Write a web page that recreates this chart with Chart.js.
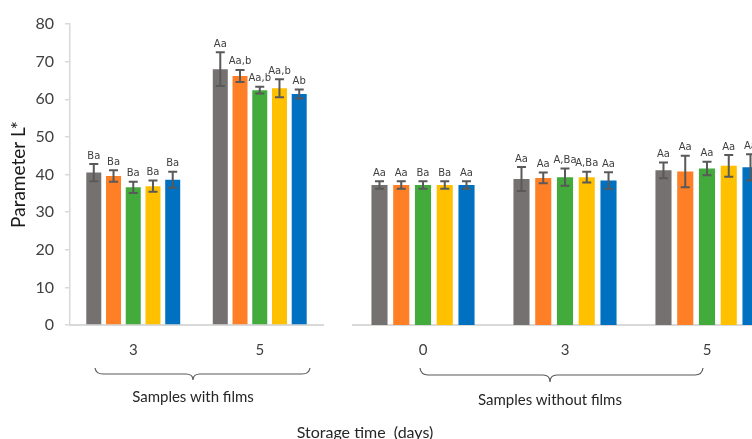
<!DOCTYPE html>
<html>
<head>
<meta charset="utf-8">
<script src="https://cdn.jsdelivr.net/npm/chart.js@4"></script>
<style>
  html, body { margin: 0; padding: 0; background: #fff; width: 752px; height: 439px; overflow: hidden; position: relative; }
  canvas { position: absolute; top: 0; }
  .cap { position: absolute; font-family: Lato, sans-serif; font-size: 15px; color: #262626; transform: translate(-50%, -50%); white-space: nowrap; }
  .cap.big { font-size: 16px; }
  svg { position: absolute; left: 0; top: 0; }
</style>
</head>
<body>
<canvas id="withFilms" width="340" height="439" style="left:0"></canvas>
<canvas id="withoutFilms" width="426" height="439" style="left:352px"></canvas>

<svg width="752" height="439">
  <g fill="none" stroke="#595959" stroke-width="1.2">
    <path d="M95 368 Q96 374 103 374 L186 374 Q193 374 193 380 Q193 374 200 374 L302 374 Q309 374 310 368"/>
    <path d="M420 368 Q421 375 428 375 L543 375 Q550 375 550 382 Q550 375 557 375 L695 375 Q702 375 703 368"/>
  </g>
</svg>
<div class="cap" style="left:193px;top:396px">Samples with films</div>
<div class="cap" style="left:550px;top:399px">Samples without films</div>
<div class="cap big" style="left:365px;top:431px">Storage time&nbsp;&nbsp;(days)</div>

<script>
// Storage days per panel
const daysWithFilms = ['3', '5'];
const daysWithoutFilms = ['0', '3', '5'];

// Bar colours for the five sample series
const seriesColors = ['#767171', '#FF7F27', '#43AB3C', '#FFC000', '#0070C0'];

// Parameter L* means, panel with films (one row per series)
const meansWithFilms = [
  [40.5, 68.0],
  [39.6, 66.2],
  [36.6, 62.4],
  [36.9, 62.9],
  [38.6, 61.4]
];
const errorsWithFilms = [
  [2.3, 4.5],
  [1.5, 1.6],
  [1.5, 0.9],
  [1.5, 2.4],
  [2.1, 1.2]
];
const lettersWithFilms = [
  ['Ba', 'Aa'],
  ['Ba', 'Aa,b'],
  ['Ba', 'Aa,b'],
  ['Ba', 'Aa,b'],
  ['Ba', 'Ab']
];

// Parameter L* means, panel without films
const meansWithoutFilms = [
  [37.2, 38.8, 41.1],
  [37.2, 39.1, 40.8],
  [37.2, 39.3, 41.6],
  [37.2, 39.3, 42.3],
  [37.2, 38.4, 41.9]
];
const errorsWithoutFilms = [
  [1.0, 3.2, 2.1],
  [1.0, 1.4, 4.2],
  [1.0, 2.3, 1.8],
  [1.0, 1.4, 2.9],
  [1.0, 2.2, 3.5]
];
const lettersWithoutFilms = [
  ['Aa', 'Aa', 'Aa'],
  ['Aa', 'Aa', 'Aa'],
  ['Ba', 'A,Ba', 'Aa'],
  ['Ba', 'A,Ba', 'Aa'],
  ['Aa', 'Aa', 'Aa']
];

// Y-axis ticks
const yMin = 0, yMax = 80, yStep = 10;

const AXIS_GREY = '#d9d9d9';
const TEXT_DARK = '#404040';

// Draws the ± error whiskers and the significance letters over each bar
const errorBarPlugin = {
  id: 'errorBars',
  afterDatasetsDraw(chart) {
    const ctx = chart.ctx;
    const y = chart.scales.y;
    chart.data.datasets.forEach((ds, i) => {
      const meta = chart.getDatasetMeta(i);
      meta.data.forEach((bar, j) => {
        const v = ds.data[j], e = ds.errors[j];
        const yt = y.getPixelForValue(v + e);
        const yb = y.getPixelForValue(v - e);
        const x = bar.x;
        ctx.save();
        ctx.strokeStyle = '#595959';
        ctx.lineWidth = 2;
        ctx.beginPath();
        ctx.moveTo(x, yt); ctx.lineTo(x, yb);
        ctx.moveTo(x - 4.5, yt); ctx.lineTo(x + 4.5, yt);
        ctx.moveTo(x - 4.5, yb); ctx.lineTo(x + 4.5, yb);
        ctx.stroke();
        ctx.fillStyle = TEXT_DARK;
        ctx.font = '10px "DejaVu Sans"';
        ctx.textAlign = 'center';
        ctx.textBaseline = 'bottom';
        ctx.fillText(ds.letters[j], x, yt - 3);
        ctx.restore();
      });
    });
  }
};

function buildDatasets(means, errors, letters) {
  return means.map((vals, i) => ({
    label: 'S' + (i + 1),
    data: vals,
    errors: errors[i],
    letters: letters[i],
    backgroundColor: seriesColors[i],
    borderWidth: 0
  }));
}

function xScale() {
  return {
    grid: { display: false, drawTicks: false },
    border: { color: AXIS_GREY, width: 2 },
    ticks: { color: TEXT_DARK, font: { family: 'Lato', size: 15 }, padding: 16 },
    afterFit(scale) { scale.height = 114; }
  };
}

Chart.defaults.animation = false;

new Chart(document.getElementById('withFilms'), {
  type: 'bar',
  data: { labels: daysWithFilms, datasets: buildDatasets(meansWithFilms, errorsWithFilms, lettersWithFilms) },
  options: {
    responsive: false,
    categoryPercentage: 0.78,
    barPercentage: 0.76,
    layout: { padding: { top: 24, right: 17, left: 0, bottom: 0 } },
    plugins: { legend: { display: false }, tooltip: { enabled: false } },
    scales: {
      x: xScale(),
      y: {
        min: yMin, max: yMax,
        ticks: { stepSize: yStep, color: TEXT_DARK, font: { family: 'Lato', size: 16 }, padding: 11 },
        grid: { drawOnChartArea: false, drawTicks: true, tickLength: 5, color: AXIS_GREY, lineWidth: 1.5 },
        border: { color: AXIS_GREY, width: 1.5 },
        title: { display: true, text: 'Parameter L*', color: '#1a1a1a', font: { family: 'Lato', size: 19 }, padding: { top: 7, bottom: 0 } },
        afterFit(scale) { scale.width = 70; }
      }
    }
  },
  plugins: [errorBarPlugin]
});

new Chart(document.getElementById('withoutFilms'), {
  type: 'bar',
  data: { labels: daysWithoutFilms, datasets: buildDatasets(meansWithoutFilms, errorsWithoutFilms, lettersWithoutFilms) },
  options: {
    responsive: false,
    categoryPercentage: 0.766,
    barPercentage: 0.74,
    layout: { padding: { top: 24, right: 0, left: 0, bottom: 0 } },
    plugins: { legend: { display: false }, tooltip: { enabled: false } },
    scales: {
      x: xScale(),
      y: { display: false, min: yMin, max: yMax }
    }
  },
  plugins: [errorBarPlugin]
});
</script>
</body>
</html>
